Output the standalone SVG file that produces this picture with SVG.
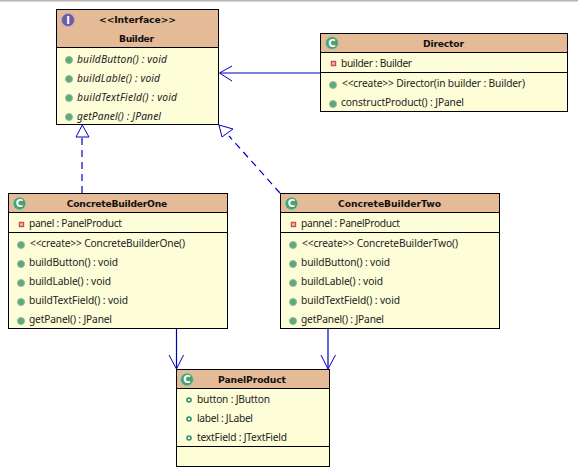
<svg xmlns="http://www.w3.org/2000/svg" width="578" height="475" viewBox="0 0 578 475">
<style>
text{font-family:"Noto Sans","DejaVu Sans",sans-serif;font-size:10.2px;fill:#222}
.t{font-family:"DejaVu Sans",sans-serif;font-weight:bold;font-size:9.2px;fill:#111;text-anchor:middle}
.i{font-style:italic}
.box{fill:#fdfdd8;stroke:#000;stroke-width:1}
.hd{fill:#e4bb96;stroke:#000;stroke-width:1}
.sep{stroke:#000;stroke-width:1}
.con{fill:none;stroke:#0000c0;stroke-width:1.200}
.head{fill:none;stroke:#0000c0;stroke-width:1}
.dash{stroke-dasharray:7 5}
.pub{fill:#5fa878;stroke:#8fb89f;stroke-width:1}
.priv{fill:#f4c8c0;stroke:#d04848;stroke-width:1.400}
.fld{fill:#f5f5e0;stroke:#2f8f6a;stroke-width:1.600}
.ci{fill:#4f9f70;stroke:#a8cdb4;stroke-width:1}
.cg{fill:#fff;font-family:"DejaVu Sans",sans-serif;font-weight:bold;font-size:10px;text-anchor:middle}
</style>
<rect width="578" height="475" fill="#fff"/>
<rect width="578" height="1.500" fill="#b4b4b4"/>
<g id="connectors">
<path class="con" d="M320 73H220"/>
<path class="head" d="M232 66L219.500 73L232 81"/>
<path class="con dash" d="M82 193V137"/>
<path class="head" d="M82.300 125L76 137H89Z"/>
<path class="con dash" d="M280 193L229 136"/>
<path class="head" d="M219 125L222 137L233 129Z"/>
<path class="con" d="M176.500 329V368"/>
<path class="head" d="M169 355L176.500 369L183.500 355"/>
<path class="con" d="M328 329V368"/>
<path class="head" d="M321 355L328 369L335.500 355"/>
</g>
<g id="builder">
<rect class="box" x="56.500" y="9.500" width="162" height="115"/>
<rect class="hd" x="56.500" y="9.500" width="162" height="38"/>
<circle cx="68" cy="20" r="6.500" fill="#6a5aa8" stroke="#b0a8d0"/>
<text class="cg" x="68" y="23.500">I</text>
<text class="t" x="137.500" y="23" textLength="77">&lt;&lt;Interface&gt;&gt;</text>
<text class="t" x="136.500" y="42" textLength="35">Builder</text>
<circle class="pub" cx="69" cy="60" r="3.500"/><text class="i" x="77" y="62.500" textLength="90">buildButton() : void</text>
<circle class="pub" cx="69" cy="79" r="3.500"/><text class="i" x="77" y="81.500" textLength="83">buildLable() : void</text>
<circle class="pub" cx="69" cy="98" r="3.500"/><text class="i" x="77" y="100.500" textLength="100">buildTextField() : void</text>
<circle class="pub" cx="69" cy="117" r="3.500"/><text class="i" x="77" y="119.500" textLength="84">getPanel() : JPanel</text>
</g>
<g id="director">
<rect class="box" x="320.500" y="33.500" width="247" height="78"/>
<rect class="hd" x="320.500" y="33.500" width="247" height="19"/>
<line class="sep" x1="320.500" y1="72.500" x2="567.500" y2="72.500"/>
<circle class="ci" cx="332" cy="43" r="6.500"/><text class="cg" x="332" y="46.500">C</text>
<text class="t" x="443.500" y="47" textLength="41">Director</text>
<rect class="priv" x="331.500" y="61.500" width="4" height="4"/><text x="341" y="67" textLength="71">builder : Builder</text>
<circle class="pub" cx="333" cy="85" r="3.500"/><text x="342" y="87" textLength="183">&lt;&lt;create&gt;&gt; Director(in builder : Builder)</text>
<circle class="pub" cx="333" cy="104" r="3.500"/><text x="341" y="106" textLength="123">constructProduct() : JPanel</text>
</g>
<g id="concrete-builder-one">
<rect class="box" x="8.500" y="193.500" width="219" height="135"/>
<rect class="hd" x="8.500" y="193.500" width="219" height="19"/>
<line class="sep" x1="8.500" y1="232.500" x2="227.500" y2="232.500"/>
<circle class="ci" cx="19.500" cy="203.500" r="6.500"/><text class="cg" x="19.500" y="207">C</text>
<text class="t" x="117" y="207" textLength="100.500">ConcreteBuilderOne</text>
<rect class="priv" x="19.500" y="222.500" width="4" height="4"/><text x="29" y="227" textLength="93">panel : PanelProduct</text>
<circle class="pub" cx="21" cy="245" r="3.500"/><text x="30" y="247" textLength="155">&lt;&lt;create&gt;&gt; ConcreteBuilderOne()</text>
<circle class="pub" cx="21" cy="264" r="3.500"/><text x="29" y="266" textLength="89">buildButton() : void</text>
<circle class="pub" cx="21" cy="283" r="3.500"/><text x="29" y="285" textLength="82">buildLable() : void</text>
<circle class="pub" cx="21" cy="302" r="3.500"/><text x="29" y="304" textLength="99">buildTextField() : void</text>
<circle class="pub" cx="21" cy="321" r="3.500"/><text x="29" y="323" textLength="83">getPanel() : JPanel</text>
</g>
<g id="concrete-builder-two">
<rect class="box" x="280.500" y="193.500" width="219" height="135"/>
<rect class="hd" x="280.500" y="193.500" width="219" height="19"/>
<line class="sep" x1="280.500" y1="232.500" x2="499.500" y2="232.500"/>
<circle class="ci" cx="291.500" cy="203.500" r="6.500"/><text class="cg" x="291.500" y="207">C</text>
<text class="t" x="389.500" y="207" textLength="103">ConcreteBuilderTwo</text>
<rect class="priv" x="291.500" y="222.500" width="4" height="4"/><text x="301" y="227" textLength="99">pannel : PanelProduct</text>
<circle class="pub" cx="293" cy="245" r="3.500"/><text x="302" y="247" textLength="156">&lt;&lt;create&gt;&gt; ConcreteBuilderTwo()</text>
<circle class="pub" cx="293" cy="264" r="3.500"/><text x="301" y="266" textLength="89">buildButton() : void</text>
<circle class="pub" cx="293" cy="283" r="3.500"/><text x="301" y="285" textLength="82">buildLable() : void</text>
<circle class="pub" cx="293" cy="302" r="3.500"/><text x="301" y="304" textLength="99">buildTextField() : void</text>
<circle class="pub" cx="293" cy="321" r="3.500"/><text x="301" y="323" textLength="83">getPanel() : JPanel</text>
</g>
<g id="panel-product">
<rect class="box" x="176.500" y="369.500" width="153" height="97"/>
<rect class="hd" x="176.500" y="369.500" width="153" height="19"/>
<line class="sep" x1="176.500" y1="446.500" x2="329.500" y2="446.500"/>
<circle class="ci" cx="187" cy="379.500" r="6.500"/><text class="cg" x="187" y="383">C</text>
<text class="t" x="252" y="383" textLength="68">PanelProduct</text>
<circle class="fld" cx="189" cy="400" r="2"/><text x="197" y="403" textLength="73">button : JButton</text>
<circle class="fld" cx="189" cy="419" r="2"/><text x="197" y="422" textLength="56">label : JLabel</text>
<circle class="fld" cx="189" cy="438" r="2"/><text x="197" y="441" textLength="90">textField : JTextField</text>
</g>
</svg>
